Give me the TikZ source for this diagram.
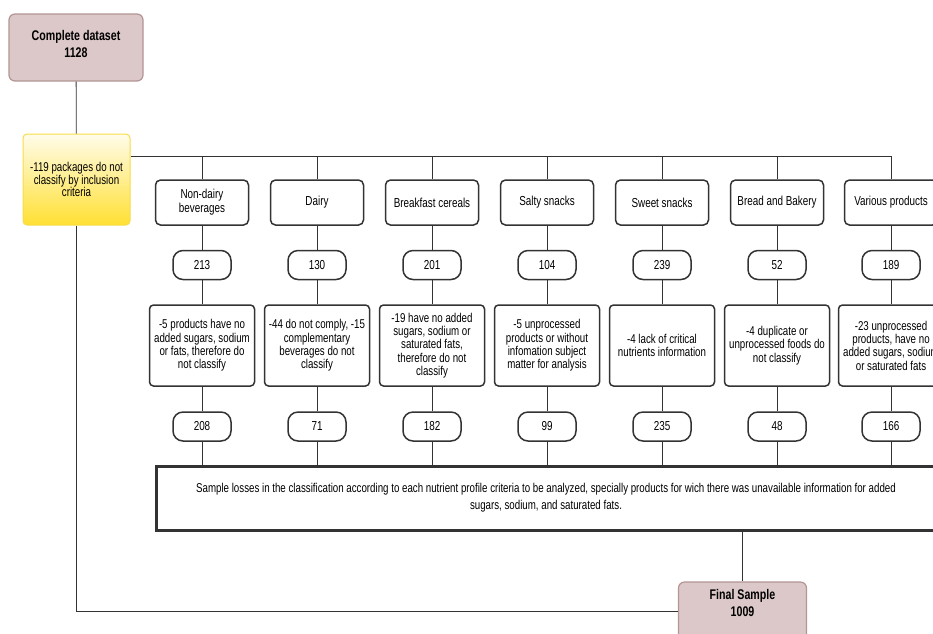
\documentclass[tikz,border=0pt]{standalone}
\usepackage{fontspec}
\setmainfont{Liberation Sans}[FakeStretch=0.76]
\begin{document}
\begin{tikzpicture}[x=1pt,y=-1pt,
  conn/.style={draw=black!80, line width=0.8pt},
  catbox/.style={draw=black!80, line width=1.5pt, rounded corners=5pt, fill=white,
     minimum width=93pt, minimum height=45pt, align=center, inner sep=1pt, font=\fontsize{13}{14}\selectfont},
  cntbox/.style={draw=black!80, line width=1.5pt, rounded corners=10pt, fill=white,
     minimum width=58pt, minimum height=29pt, inner sep=0pt, font=\fontsize{13}{14}\selectfont},
  descbox/.style={draw=black!80, line width=1.5pt, rounded corners=4pt, fill=white,
     minimum width=105pt, minimum height=81pt, align=center, inner sep=0pt, font=\fontsize{12.8}{13.3}\selectfont},
  pinkbox/.style={draw=pinkborder, line width=1.2pt, rounded corners=6pt, fill=pinkfill,
     align=center, inner sep=0pt, font=\bfseries\fontsize{14}{17}\selectfont},
]
\definecolor{pinkfill}{HTML}{DCC8C8}
\definecolor{pinkborder}{HTML}{B49494}
\definecolor{ytop}{HTML}{FFFCEA}
\definecolor{ybot}{HTML}{FFE033}
\definecolor{yborder}{HTML}{F6DC4A}
\useasboundingbox (0,0) rectangle (933,633);

\node[pinkbox, minimum width=134pt, minimum height=67pt] (cd) at (76,47.5) {Complete dataset\\1128\\[-9pt]\mbox{}};
\node[draw=yborder, line width=1pt, rounded corners=4pt, top color=ytop, bottom color=ybot,
   minimum width=107pt, minimum height=91pt, align=center, inner sep=0pt,
   font=\fontsize{12.8}{12.8}\selectfont] (yel) at (76.5,179.5) {-119 packages do not\\classify by inclusion\\criteria};

\node[catbox] (c1) at (202,202.5) {Non-dairy\\beverages};
\node[catbox] (c2) at (317,202.5) {Dairy};
\node[catbox] (c3) at (432,202.5) {Breakfast cereals};
\node[catbox] (c4) at (547,202.5) {Salty snacks};
\node[catbox] (c5) at (662,202.5) {Sweet snacks};
\node[catbox] (c6) at (777,202.5) {Bread and Bakery};
\node[catbox] (c7) at (891,202.5) {Various products};

\node[cntbox] (n1) at (202,265) {213};
\node[cntbox] (n2) at (317,265) {130};
\node[cntbox] (n3) at (432,265) {201};
\node[cntbox] (n4) at (547,265) {104};
\node[cntbox] (n5) at (662,265) {239};
\node[cntbox] (n6) at (777,265) {52};
\node[cntbox] (n7) at (891,265) {189};

\node[descbox] (d1) at (202,345.5) {-5 products have no\\added sugars, sodium\\or fats, therefore do\\not classify};
\node[descbox] (d2) at (317,345.5) {-44 do not comply, -15\\complementary\\beverages do not\\classify};
\node[descbox] (d3) at (432,345.5) {-19 have no added\\sugars, sodium or\\saturated fats,\\therefore do not\\classify};
\node[descbox] (d4) at (547,345.5) {-5 unprocessed\\products or without\\infomation subject\\matter for analysis};
\node[descbox] (d5) at (662,345.5) {-4 lack of critical\\nutrients information};
\node[descbox] (d6) at (777,345.5) {-4 duplicate or\\unprocessed foods do\\not classify};
\node[descbox] (d7) at (891,345.5) {-23 unprocessed\\products, have no\\added sugars, sodium\\or saturated fats};

\node[cntbox] (m1) at (202,426.5) {208};
\node[cntbox] (m2) at (317,426.5) {71};
\node[cntbox] (m3) at (432,426.5) {182};
\node[cntbox] (m4) at (547,426.5) {99};
\node[cntbox] (m5) at (662,426.5) {235};
\node[cntbox] (m6) at (777,426.5) {48};
\node[cntbox] (m7) at (891,426.5) {166};

\node[draw=black!80, line width=3pt, fill=white, minimum width=780pt, minimum height=64pt,
   align=center, inner sep=0pt, font=\fontsize{12.8}{17}\selectfont] (smp) at (546,498)
   {Sample losses in the classification according to each nutrient profile criteria to be analyzed, specially products for wich there was unavailable information for added\\sugars, sodium, and saturated fats.};

\node[pinkbox, minimum width=128pt, minimum height=58pt] (fin) at (742.5,611) {Final Sample\\1009\\\mbox{}};

\coordinate (hl) at (891,156);
\draw[conn] (cd) -- (yel);
\draw[conn] (yel.east |- hl) -| (c7.north);
\foreach \i in {1,...,6} {\draw[conn] (c\i.north |- hl) -- (c\i.north);}
\foreach \i in {1,...,7} {
  \draw[conn] (c\i) -- (n\i);
  \draw[conn] (n\i) -- (d\i);
  \draw[conn] (d\i) -- (m\i);
  \draw[conn] (m\i.south) -- (m\i.south |- smp.north);
}
\draw[conn] (smp.south -| fin.north) -- (fin.north);
\draw[conn] (yel.south) |- (fin.west);
\end{tikzpicture}
\end{document}
